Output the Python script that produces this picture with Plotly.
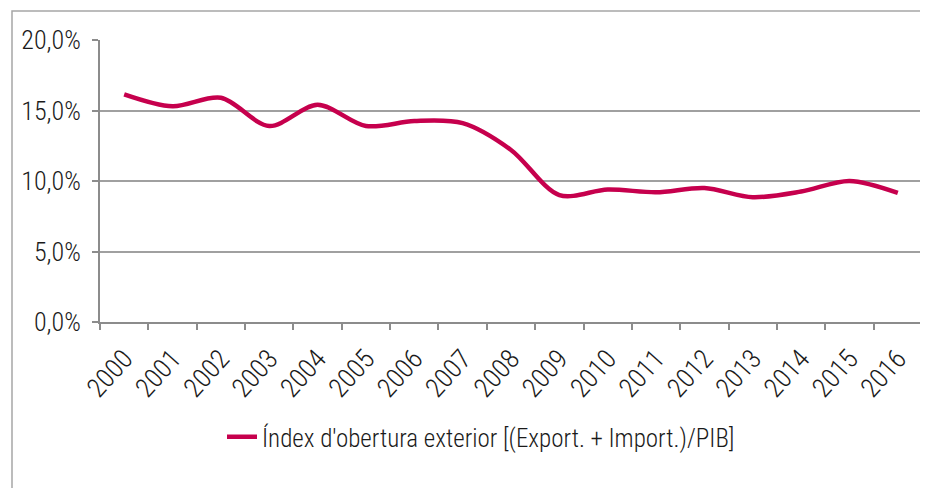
import plotly.graph_objects as go

years = [str(y) for y in range(2000, 2017)]
openness_index = [16.15, 15.3, 15.9, 13.9, 15.4, 13.9, 14.25, 14.1, 12.2, 9.0,
                  9.4, 9.2, 9.5, 8.85, 9.25, 10.0, 9.15]
series_name = "Índex d'obertura exterior [(Export. + Import.)/PIB]"
y_ticks = [0, 5, 10, 15, 20]
y_tick_labels = ["0,0%", "5,0%", "10,0%", "15,0%", "20,0%"]

FONT = "Roboto Condensed, Liberation Sans Narrow, Roboto, sans-serif"
LINE_COLOR = "#C6004D"
AXIS_GRAY = "#8C8C8C"

# page body has an 8px margin, so the figure starts at page (8, 8)
OFF = 8
W, H = 928 - OFF, 488 - OFF
L, R, T, B = 100 - OFF, 6, 40 - OFF, 488 - 322
pw, ph = W - L - R, H - T - B

def px_to_paper_x(px):
    return (px - OFF - L) / pw

def px_to_paper_y(py):
    return (H - B - (py - OFF)) / ph

fig = go.Figure()
fig.add_trace(go.Scatter(
    x=years, y=openness_index, mode="lines", name=series_name,
    line=dict(color=LINE_COLOR, width=4.5, shape="spline", smoothing=0.9),
))

fig.add_shape(type="rect", xref="paper", yref="paper",
              x0=px_to_paper_x(12), x1=px_to_paper_x(940),
              y0=px_to_paper_y(520), y1=px_to_paper_y(11),
              line=dict(color="#A6A6A6", width=1.5), fillcolor="rgba(0,0,0,0)",
              layer="below")

fig.update_layout(
    width=W, height=H,
    margin=dict(l=L, r=R, t=T, b=B, autoexpand=False),
    paper_bgcolor="white", plot_bgcolor="white",
    font=dict(family=FONT, color="#1A1A1A", size=20, weight=300),
    showlegend=True,
    legend=dict(orientation="h", x=px_to_paper_x(222), xanchor="left",
                y=px_to_paper_y(437), yanchor="middle",
                font=dict(family=FONT, size=25, color="#1A1A1A", weight=300),
                itemwidth=30, bgcolor="rgba(0,0,0,0)"),
    xaxis=dict(type="category", range=[-0.5, 16.5], showgrid=False, automargin=False,
               showline=True, linecolor=AXIS_GRAY, linewidth=2,
               ticks="outside", tickson="boundaries", ticklen=6,
               tickcolor=AXIS_GRAY, tickwidth=1.5, tickangle=-48,
               ticklabelstandoff=8,
               tickfont=dict(family=FONT, size=27, color="#1A1A1A", weight=300)),
    yaxis=dict(range=[0, 20], tickvals=y_ticks, ticktext=y_tick_labels, automargin=False,
               showgrid=True, gridcolor="#A0A0A0", gridwidth=1.5,
               showline=True, linecolor=AXIS_GRAY, linewidth=2,
               ticks="outside", ticklen=6, tickcolor=AXIS_GRAY, tickwidth=1.5,
               zeroline=False, ticklabelstandoff=6,
               tickfont=dict(family=FONT, size=26, color="#1A1A1A", weight=300)),
)

fig.write_html("out.html")
